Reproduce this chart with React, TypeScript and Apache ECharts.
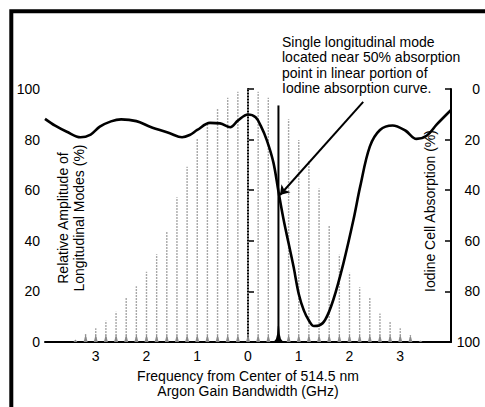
import React, { useEffect, useRef } from "react";
import * as echarts from "echarts";

// Longitudinal modes (GHz offset, relative amplitude %)
const modeFreqs = [
  -3.4, -3.2, -3.0, -2.8, -2.6, -2.4, -2.2, -2.0, -1.8, -1.6, -1.4, -1.2, -1.0, -0.8, -0.6, -0.4, -0.2, 0.0,
  0.2, 0.4, 0.8, 1.0, 1.2, 1.4, 1.6, 1.8, 2.0, 2.2, 2.4, 2.6, 2.8, 3.0, 3.2, 3.4,
];
const modeAmps = [
  1, 3.4, 5.4, 8.4, 12, 17.5, 22, 27.8, 34.7, 43.6, 57.2, 69.3, 80.5, 86, 92.2, 96.5, 98.9, 99.8,
  98.9, 96.5, 88, 79.8, 71.5, 60.7, 46.2, 34.5, 27.4, 21.6, 17.5, 11.3, 8, 5.4, 2.8, 0.5,
];

// Selected single longitudinal mode
const selectedFreq = 0.6;
const selectedAmp = 93.5;

// Iodine absorption curve (GHz offset, absorption %)
const curveFreqs = [
  -4.0, -3.8, -3.57, -3.3, -3.1, -2.92, -2.7, -2.5, -2.2, -1.93, -1.54, -1.3, -1.15, -1.0, -0.75, -0.55,
  -0.35, -0.2, 0.0, 0.15, 0.25, 0.37, 0.5, 0.6, 0.7, 0.8, 0.9, 1.0, 1.1, 1.2, 1.3, 1.4, 1.52, 1.68, 1.88,
  2.08, 2.21, 2.4, 2.6, 2.85, 3.1, 3.32, 3.52, 3.72, 4.0,
];
const curveAbs = [
  11.8, 14.5, 16.9, 19.1, 18, 14.9, 12.8, 12, 12.7, 14.9, 17.5, 19.1, 18.2, 16.2, 13.4, 13.6,
  15.1, 12.5, 10.1, 11.2, 14.5, 20.2, 29, 40.5, 51.5, 61, 70.5, 81, 87.5, 91.5, 93.7, 93.5, 91.3, 83.4, 68.9,
  51.5, 38.6, 22.8, 16.2, 14.4, 16.4, 19.7, 18.5, 14, 8.3,
];

// Axis ticks
const xTickValues = [-3, -2, -1, 0, 1, 2, 3];
const xTickLabels = ["3", "2", "1", "0", "1", "2", "3"];

// Annotation arrow (GHz, absorption %)
const arrowFrom = [2.27, 5.1];
const arrowTo = [0.63, 41.9];

const annotationText =
  "Single longitudinal mode\nlocated near 50% absorption\npoint in linear portion of\nIodine absorption curve.";

const FONT = "'Liberation Sans', Arial, Helvetica, sans-serif";

export default function App() {
  const ref = useRef<HTMLDivElement>(null);

  useEffect(() => {
    document.body.style.margin = "0";
    const chart = echarts.init(ref.current!, undefined, { renderer: "svg" });

    const modeData = modeFreqs.map((f, i) => [f, modeAmps[i]]);
    const curveData = curveFreqs.map((f, i) => [f, curveAbs[i]]);

    const option: any = {
      animation: false,
      backgroundColor: "#fff",
      textStyle: { fontFamily: FONT, color: "#000" },
      grid: { left: 45, right: 34, top: 89, bottom: 65, containLabel: false, outerBoundsMode: "none" },
      xAxis: {
        type: "value",
        min: -4,
        max: 4,
        interval: 1,
        axisLine: { show: true, lineStyle: { color: "#000", width: 2 } },
        axisTick: { show: false },
        splitLine: { show: false },
        axisLabel: {
          color: "#000",
          fontSize: 14,
          fontFamily: FONT,
          margin: 7,
          formatter: (v: number) => {
            const i = xTickValues.indexOf(Math.round(v));
            return i >= 0 ? xTickLabels[i] : "";
          },
        },
        name: "Frequency from Center of 514.5 nm\nArgon Gain Bandwidth (GHz)",
        nameLocation: "middle",
        nameGap: 27,
        nameTextStyle: { color: "#000", fontSize: 14, fontFamily: FONT, lineHeight: 14.5 },
      },
      yAxis: [
        {
          type: "value",
          min: 0,
          max: 100,
          interval: 20,
          position: "left",
          axisLine: { show: true, lineStyle: { color: "#000", width: 2 } },
          axisTick: { show: true, inside: true, length: 6, lineStyle: { color: "#000", width: 1.5 } },
          splitLine: { show: false },
          axisLabel: { color: "#000", fontSize: 14, fontFamily: FONT, margin: 5 },
        },
        {
          type: "value",
          min: 0,
          max: 100,
          interval: 20,
          inverse: true,
          position: "right",
          axisLine: { show: true, lineStyle: { color: "#000", width: 2 } },
          axisTick: { show: true, inside: true, length: 6, lineStyle: { color: "#000", width: 1.5 } },
          splitLine: { show: false },
          axisLabel: { color: "#000", fontSize: 14, fontFamily: FONT, margin: 29, align: "right" },
        },
      ],
      graphic: [
        {
          type: "rect",
          shape: { x: 11.3, y: 11.3, width: 600, height: 600 },
          style: { fill: "none", stroke: "#000", lineWidth: 4 },
          silent: true,
        },
        {
          type: "text",
          left: 282,
          top: 34,
          style: { text: annotationText, font: `14px ${FONT}`, fill: "#000", lineHeight: 15.5 },
          silent: true,
        },
        {
          type: "text",
          x: 71,
          y: 218,
          rotation: Math.PI / 2,
          style: {
            text: "Relative Amplitude of\nLongitudinal Modes (%)",
            font: `14px ${FONT}`,
            fill: "#000",
            align: "center",
            verticalAlign: "middle",
            lineHeight: 16,
          },
          silent: true,
        },
        {
          type: "text",
          x: 430,
          y: 211,
          rotation: Math.PI / 2,
          style: {
            text: "Iodine Cell Absorption (%)",
            font: `14px ${FONT}`,
            fill: "#000",
            align: "center",
            verticalAlign: "middle",
          },
          silent: true,
        },
      ],
      series: [
        {
          type: "custom",
          name: "Longitudinal modes",
          xAxisIndex: 0,
          yAxisIndex: 0,
          clip: false,
          encode: { x: 0, y: 1 },
          data: modeData,
          renderItem: (params: any, api: any) => {
            const x = api.value(0);
            const h = api.value(1);
            const top = api.coord([x, h]);
            const base = api.coord([x, 0]);
            const triH = Math.min(8, base[1] - top[1]);
            return {
              type: "group",
              children: [
                {
                  type: "line",
                  shape: { x1: base[0], y1: base[1], x2: top[0], y2: top[1] },
                  style: { stroke: "#a8a8a8", lineWidth: 1.4, lineDash: [2, 1] },
                },
                {
                  type: "polygon",
                  shape: {
                    points: [
                      [base[0] - 2, base[1]],
                      [base[0] + 2, base[1]],
                      [base[0], base[1] - triH],
                    ],
                  },
                  style: { fill: "#8a8a8a" },
                },
              ],
            };
          },
          z: 1,
        },
        {
          type: "custom",
          name: "Selected mode",
          xAxisIndex: 0,
          yAxisIndex: 0,
          clip: false,
          encode: { x: 0, y: 1 },
          data: [[selectedFreq, selectedAmp]],
          renderItem: (params: any, api: any) => {
            const x = api.value(0);
            const h = api.value(1);
            const top = api.coord([x, h]);
            const base = api.coord([x, 0]);
            const bx = base[0];
            const by = base[1];
            return {
              type: "group",
              children: [
                {
                  type: "line",
                  shape: { x1: bx, y1: by, x2: top[0], y2: top[1] },
                  style: { stroke: "#000", lineWidth: 2 },
                },
                {
                  type: "polygon",
                  shape: {
                    points: [
                      [bx - 5, by],
                      [bx - 2.5, by - 3],
                      [bx - 1.3, by - 8],
                      [bx - 0.6, by - 16],
                      [bx + 0.6, by - 16],
                      [bx + 1.3, by - 8],
                      [bx + 2.5, by - 3],
                      [bx + 5, by],
                    ],
                  },
                  style: { fill: "#000" },
                },
              ],
            };
          },
          z: 3,
        },
        {
          type: "line",
          name: "Iodine absorption",
          xAxisIndex: 0,
          yAxisIndex: 1,
          data: curveData,
          smooth: 0.35,
          showSymbol: false,
          symbol: "none",
          lineStyle: { color: "#000", width: 2.6 },
          z: 4,
          markLine: {
            silent: true,
            symbol: ["none", "arrow"],
            symbolSize: 9,
            label: { show: false },
            lineStyle: { color: "#000", width: 2, type: "solid" },
            emphasis: { disabled: true },
            data: [[{ coord: arrowFrom }, { coord: arrowTo }]],
          },
        },
      ],
    };

    chart.setOption(option);
    return () => chart.dispose();
  }, []);

  return (
    <div
      ref={ref}
      style={{ position: "absolute", left: 0, top: 0, width: 485, height: 407, background: "#fff" }}
    />
  );
}
